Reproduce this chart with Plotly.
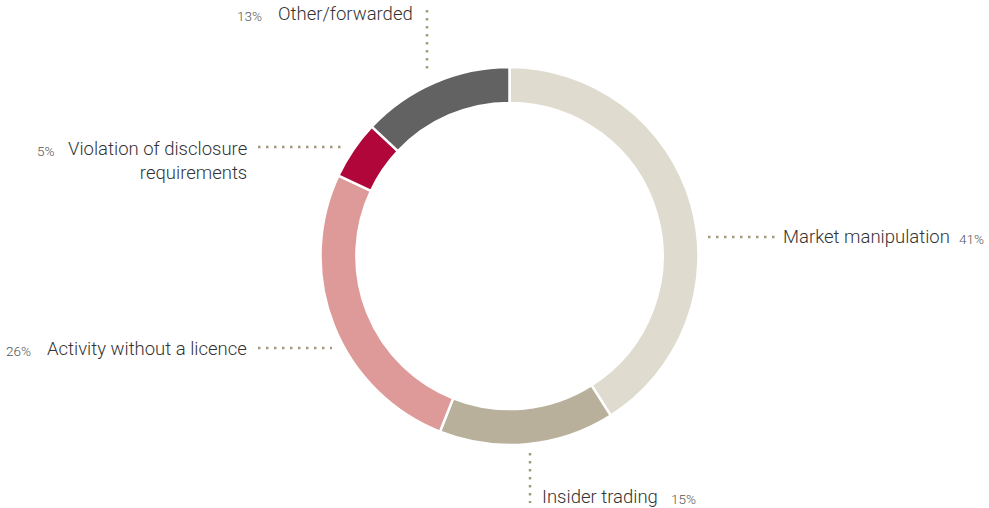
import plotly.graph_objects as go

# Data
categories = ["Market manipulation", "Insider trading", "Activity without a licence",
              "Violation of disclosure<br>requirements", "Other/forwarded"]
shares = [41, 15, 26, 5, 13]
slice_colors = ["#DFDBCF", "#B8B09A", "#DE9A98", "#B0063A", "#626262"]

W, H = 989, 508
LEADER = "#A39A7C"
TEXT = "#333333"
PCT = "#555555"

# label layout in pixels: (label x, label y, label anchor, pct x, pct y, leader line)
label_layout = [
    (781, 237, "left", 957, 239, (708, 237, 775, 237)),
    (540, 497, "left", 669, 499, (530, 453, 530, 503)),
    (249, 349, "right", 33, 351, (258, 348, 332, 348)),
    (249, 161, "right", 56, 151, (258, 147, 342, 147)),
    (415, 14, "right", 264, 16, (427, 10, 427, 72)),
]


def px_x(x):
    return x / W


def px_y(y):
    return 1 - y / H


fig = go.Figure(go.Pie(
    labels=categories,
    values=shares,
    hole=0.81,
    sort=False,
    direction="clockwise",
    rotation=0,
    marker=dict(colors=slice_colors, line=dict(color="white", width=2.5)),
    textinfo="none",
    hoverinfo="label+percent",
    showlegend=False,
    domain=dict(x=[px_x(509.5 - 189), px_x(509.5 + 189)],
                y=[px_y(256 + 189), px_y(256 - 189)]),
))

annotations = []
shapes = []
for name, val, (lx, ly, anchor, qx, qy, (x0, y0, x1, y1)) in zip(categories, shares, label_layout):
    annotations.append(dict(
        x=px_x(lx), y=px_y(ly), xref="paper", yref="paper",
        text=name, showarrow=False, xanchor=anchor, yanchor="middle", align="right",
        font=dict(family="Roboto", size=18.5, color=TEXT, weight=300),
    ))
    annotations.append(dict(
        x=px_x(qx), y=px_y(qy), xref="paper", yref="paper",
        text=f"{val}%", showarrow=False, xanchor=anchor, yanchor="middle",
        font=dict(family="Roboto", size=13.5, color=PCT, weight=300),
    ))
    shapes.append(dict(
        type="line", xref="paper", yref="paper",
        x0=px_x(x0), y0=px_y(y0), x1=px_x(x1), y1=px_y(y1),
        line=dict(color=LEADER, width=2.5, dash="2.5px,5.5px"),
    ))

fig.update_layout(
    width=W, height=H,
    margin=dict(l=0, r=0, t=0, b=0),
    paper_bgcolor="white",
    plot_bgcolor="white",
    annotations=annotations,
    shapes=shapes,
)

fig.write_html("out.html", config={"displayModeBar": False},
               post_script="document.body.style.margin='0';")
